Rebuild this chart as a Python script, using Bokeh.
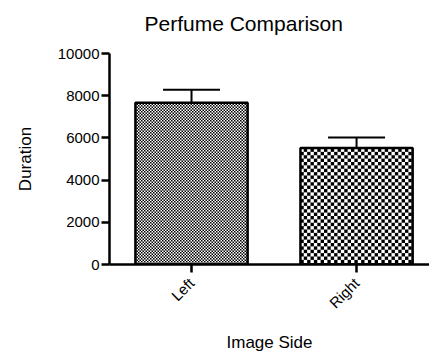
import math, zlib, struct, base64
from bokeh.plotting import figure
from bokeh.models import (ColumnDataSource, Range1d, FixedTicker, Whisker, TeeHead,
                          ImageURLTexture, Title)
from bokeh.core.properties import value
from bokeh.embed import file_html
from bokeh.resources import INLINE

# ---- data ----
categories = ["Left", "Right"]
x_pos = [1, 2]
means = [7670, 5525]
errors = [615, 490]
y_ticks = [0, 2000, 4000, 6000, 8000, 10000]
title_text = "Perfume Comparison"

FONT = "Liberation Sans"


def checker_texture(tile, cell, ss=8):
    """Antialiased checkerboard tile as a PNG data URL."""
    rows = []
    for r in range(tile):
        row = bytearray([0])
        for c in range(tile):
            acc = 0
            for i in range(ss):
                for j in range(ss):
                    yy = r + (i + 0.5) / ss
                    xx = c + (j + 0.5) / ss
                    if (int(yy // cell) + int(xx // cell)) % 2 == 0:
                        acc += 1
            g = int(round(255 * (1 - acc / (ss * ss))))
            row += bytes([g, g, g, 255])
        rows.append(bytes(row))
    raw = b"".join(rows)

    def chunk(t, d):
        c = struct.pack(">I", len(d)) + t + d
        return c + struct.pack(">I", zlib.crc32(t + d) & 0xffffffff)

    png = (b"\x89PNG\r\n\x1a\n"
           + chunk(b"IHDR", struct.pack(">IIBBBBB", tile, tile, 8, 6, 0, 0, 0))
           + chunk(b"IDAT", zlib.compress(raw)) + chunk(b"IEND", b""))
    return ImageURLTexture(url="data:image/png;base64," + base64.b64encode(png).decode())


textures = {"fine": checker_texture(6, 1.5), "coarse": checker_texture(27, 3.375)}
pattern_names = ["fine", "coarse"]

p = figure(width=429, height=355, output_backend="svg", toolbar_location=None,
           x_range=Range1d(0.503, 2.442), y_range=Range1d(0, 10000),
           min_border_left=109, min_border_right=0, min_border_top=53,
           min_border_bottom=82)
p.outline_line_color = None
p.grid.visible = False
p.background_fill_color = "white"
p.border_fill_color = "white"
p.title.text = ""

# spacer between frame and title (first "above" item sits next to the frame)
p.add_layout(Title(text=" ", text_font=FONT, text_font_size="16px", standoff=0), "above")
p.add_layout(Title(text=title_text, text_font=FONT, text_font_size="21px",
                   text_font_style="normal", text_color="black", align="left",
                   offset=35, standoff=0), "above")

for i in range(len(categories)):
    p.vbar(x=[x_pos[i]], top=[means[i]], bottom=0, width=0.68,
           fill_color="white", line_color="black", line_width=2.5,
           hatch_pattern=value(pattern_names[i]), hatch_extra=textures,
           hatch_color="black", hatch_alpha=1.0)

src = ColumnDataSource(dict(x=x_pos, mean=means,
                            upper=[m + e for m, e in zip(means, errors)]))
w = Whisker(source=src, base="x", lower="mean", upper="upper", dimension="height",
            line_color="black", line_width=2,
            upper_head=TeeHead(size=57, line_color="black", line_width=2),
            lower_head=None, level="overlay")
p.add_layout(w)

# axes
for ax in (p.xaxis[0], p.yaxis[0]):
    ax.axis_line_width = 2.5
    ax.axis_line_color = "black"
    ax.major_tick_line_width = 2.5
    ax.major_tick_line_color = "black"
    ax.major_tick_out = 8
    ax.major_tick_in = 0
    ax.minor_tick_line_color = None
    ax.major_label_text_font = FONT
    ax.major_label_text_font_size = "15px"
    ax.major_label_text_color = "black"
    ax.axis_label_text_font = FONT
    ax.axis_label_text_font_size = "17px"
    ax.axis_label_text_font_style = "normal"
    ax.axis_label_text_color = "black"

p.yaxis.ticker = FixedTicker(ticks=y_ticks)
p.yaxis.major_label_standoff = 2
p.yaxis.axis_label = "Duration"
p.yaxis.axis_label_standoff = 20

p.xaxis.ticker = FixedTicker(ticks=x_pos)
p.xaxis.major_label_overrides = {x: c for x, c in zip(x_pos, categories)}
p.xaxis.major_label_orientation = math.pi / 4
p.xaxis.major_label_standoff = 8
p.xaxis.axis_label = "Image Side"
p.xaxis.axis_label_standoff = 13

open("out.html", "w").write(file_html(p, INLINE))
